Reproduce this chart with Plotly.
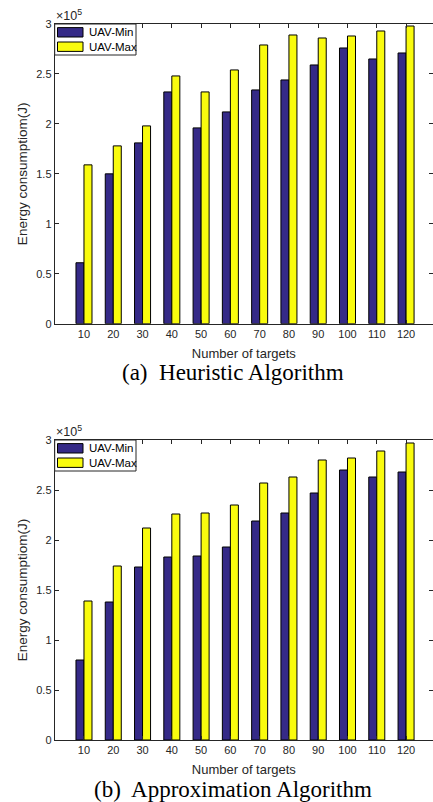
import plotly.graph_objects as go
from plotly.subplots import make_subplots

targets = [10, 20, 30, 40, 50, 60, 70, 80, 90, 100, 110, 120]
heur_min = [0.61, 1.50, 1.81, 2.32, 1.96, 2.12, 2.34, 2.44, 2.59, 2.76, 2.65, 2.71]
heur_max = [1.59, 1.78, 1.98, 2.48, 2.32, 2.54, 2.79, 2.89, 2.86, 2.88, 2.93, 2.98]
appr_min = [0.80, 1.38, 1.73, 1.83, 1.84, 1.93, 2.19, 2.27, 2.47, 2.70, 2.63, 2.68]
appr_max = [1.39, 1.74, 2.12, 2.26, 2.27, 2.35, 2.57, 2.63, 2.80, 2.82, 2.89, 2.97]
y_ticks = [0, 0.5, 1, 1.5, 2, 2.5, 3]
series_names = ["UAV-Min", "UAV-Max"]
captions = ["(a)  Heuristic Algorithm", "(b)  Approximation Algorithm"]

W, H = 433, 802
C_MIN = "#352A87"
C_MAX = "#F9FB0E"
AX = "#262626"
FONT = "Liberation Sans, Arial, sans-serif"


def px(x):
    return x / W


def py(y):
    return 1 - y / H


fig = make_subplots(rows=2, cols=1)

# pixel geometry of each axes: (top, bottom)
panels = [(24.0, 323.7), (440.0, 740.0)]
x_left = 54.7

data = [(heur_min, heur_max), (appr_min, appr_max)]
for i, (vmin, vmax) in enumerate(data):
    r = i + 1
    for vals, name, col in [(vmin, series_names[0], C_MIN), (vmax, series_names[1], C_MAX)]:
        fig.add_trace(go.Bar(x=targets, y=[v * 1e5 for v in vals], name=name,
                             marker=dict(color=col, line=dict(color="black", width=1)),
                             showlegend=False), row=r, col=1)

fig.update_layout(barmode="group", bargap=0.453, bargroupgap=0.0,
                  width=W, height=H, margin=dict(l=0, r=0, t=0, b=0, autoexpand=False),
                  plot_bgcolor="white", paper_bgcolor="white",
                  font=dict(family=FONT, color=AX))

for i, (top, bot) in enumerate(panels):
    r = i + 1
    fig.update_xaxes(row=r, col=1, domain=[px(x_left), 1.0], range=[0, 129.2], automargin=False,
                     tickvals=targets, ticktext=[str(t) for t in targets],
                     showline=True, linecolor=AX, linewidth=1, mirror="ticks",
                     ticks="inside", ticklen=4, tickcolor=AX, showgrid=False, zeroline=False,
                     tickfont=dict(size=11, color=AX, family=FONT),
                     title=dict(text="Number of targets", font=dict(size=13, color=AX, family=FONT), standoff=9))
    fig.update_yaxes(row=r, col=1, domain=[py(bot), py(top)], range=[0, 3e5], automargin=False,
                     tickvals=[t * 1e5 for t in y_ticks], ticktext=[f"{t:g}" for t in y_ticks],
                     showline=True, linecolor=AX, linewidth=1, mirror="ticks",
                     ticks="inside", ticklen=4, tickcolor=AX, showgrid=False, zeroline=False,
                     tickfont=dict(size=11, color=AX, family=FONT),
                     title=dict(text="Energy consumptiom(J)", font=dict(size=13.5, color=AX, family=FONT), standoff=5))

    # exponent label
    fig.add_annotation(xref="paper", yref="paper", x=px(x_left - 1), y=py(top + 1), xanchor="left", yanchor="bottom",
                       text="×10<sup>5</sup>", showarrow=False, font=dict(size=12.5, color=AX, family=FONT))
    # caption
    fig.add_annotation(xref="paper", yref="paper", x=px(233), y=py(bot + 49), xanchor="center", yanchor="middle",
                       text=captions[i], showarrow=False,
                       font=dict(size=23, color="black", family="Liberation Serif, Times New Roman, serif"))
    # manual legend
    fig.add_shape(type="rect", xref="paper", yref="paper", x0=px(x_left), x1=px(136), y0=py(top + 31), y1=py(top),
                  line=dict(color=AX, width=1), fillcolor="white", layer="above")
    for j, (name, col) in enumerate([(series_names[0], C_MIN), (series_names[1], C_MAX)]):
        yc = top + 8.3 + j * 14.4
        fig.add_shape(type="rect", xref="paper", yref="paper", x0=px(57.5), x1=px(83), y0=py(yc + 4.7), y1=py(yc - 4.7),
                      line=dict(color="black", width=1), fillcolor=col, layer="above")
        fig.add_annotation(xref="paper", yref="paper", x=px(86.5), y=py(yc), xanchor="left", yanchor="middle",
                           text=name, showarrow=False, font=dict(size=11.5, color="black", family=FONT))

fig.write_html("out.html", config={"displayModeBar": False},
               post_script="document.body.style.margin='0';document.body.style.overflow='hidden';")
